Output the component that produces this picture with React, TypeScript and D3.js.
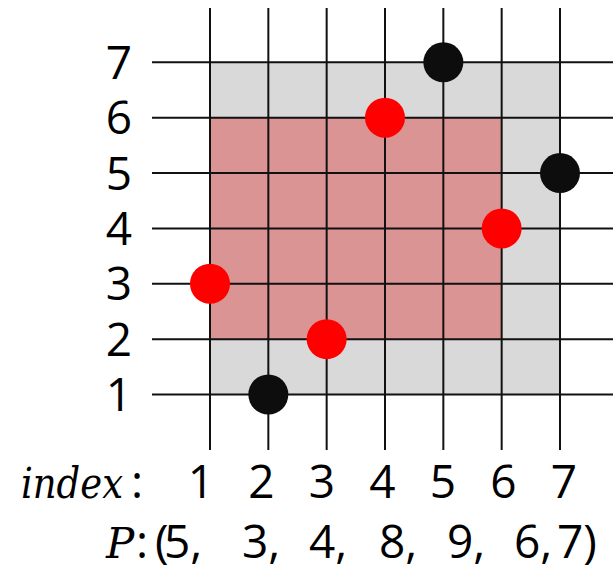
import React from "react";
import * as d3 from "d3";

const gridTicks = [1, 2, 3, 4, 5, 6, 7];
const indexLabels = ["1", "2", "3", "4", "5", "6", "7"];
const pValues = [5, 3, 4, 8, 9, 6, 7];
const redPoints: [number, number][] = [[1, 3], [3, 2], [4, 6], [6, 4]];
const blackPoints: [number, number][] = [[2, 1], [5, 7], [7, 5]];
const grayBox = { x0: 1, x1: 7, y0: 1, y1: 7 };
const redBox = { x0: 1, x1: 6, y0: 2, y1: 6 };

const W = 613;
const H = 570;
const SANS = "'Open Sans', 'Noto Sans', sans-serif";
const SERIF = "'DejaVu Serif', 'Liberation Serif', serif";
const FS = 46;
const LINE = "#111";
// layout: left edge of each P entry
const pStarts = [164, 242, 309, 379, 447, 514, 557];

export default function App() {
  const x = d3.scaleLinear().domain([1, 7]).range([210, 560]);
  const y = d3.scaleLinear().domain([1, 7]).range([394.5, 62.3]);
  const rect = (b: { x0: number; x1: number; y0: number; y1: number }, fill: string) => (
    <rect x={x(b.x0)} y={y(b.y1)} width={x(b.x1) - x(b.x0)} height={y(b.y0) - y(b.y1)} fill={fill} />
  );
  return (
    <svg width={W} height={H} style={{ position: "absolute", left: 0, top: 0, background: "#fff" }}>
      {rect(grayBox, "#d9d9d9")}
      {rect(redBox, "#da9494")}
      {gridTicks.map((t) => (
        <line key={"v" + t} x1={x(t)} x2={x(t)} y1={8} y2={450} stroke={LINE} strokeWidth={2} />
      ))}
      {gridTicks.map((t) => (
        <line key={"h" + t} x1={152} x2={W} y1={y(t)} y2={y(t)} stroke={LINE} strokeWidth={2} />
      ))}
      {redPoints.map(([a, b], i) => (
        <circle key={"r" + i} cx={x(a)} cy={y(b)} r={20} fill="#ff0000" />
      ))}
      {blackPoints.map(([a, b], i) => (
        <circle key={"b" + i} cx={x(a)} cy={y(b)} r={20} fill="#0d0d0d" />
      ))}
      {gridTicks.map((t) => (
        <text key={"yl" + t} x={119} y={y(t)} dy="0.36em" textAnchor="middle" fontFamily={SANS} fontSize={FS} fill="#000">
          {t}
        </text>
      ))}
      <text x={21} y={498} fontFamily={SERIF} fontStyle="italic" fontSize={42} textLength={102} lengthAdjust="spacingAndGlyphs" fill="#000">index</text>
      <text x={131} y={498} fontFamily={SANS} fontSize={FS} fill="#000">:</text>
      {indexLabels.map((l, i) => (
        <text key={"xl" + i} x={201 + i * 60.5} y={498} textAnchor="middle" fontFamily={SANS} fontSize={FS} fill="#000">
          {l}
        </text>
      ))}
      <text x={106} y={558} fontFamily={SERIF} fontStyle="italic" fontSize={42} fill="#000">P</text>
      <text x={136} y={558} fontFamily={SANS} fontSize={FS} fill="#000">:</text>
      <text x={155} y={558} fontFamily={SANS} fontSize={FS} fill="#000">(</text>
      {pValues.map((v, i) => (
        <text key={"p" + i} x={pStarts[i]} y={558} fontFamily={SANS} fontSize={FS} fill="#000">
          {v + (i < pValues.length - 1 ? "," : ")")}
        </text>
      ))}
    </svg>
  );
}
